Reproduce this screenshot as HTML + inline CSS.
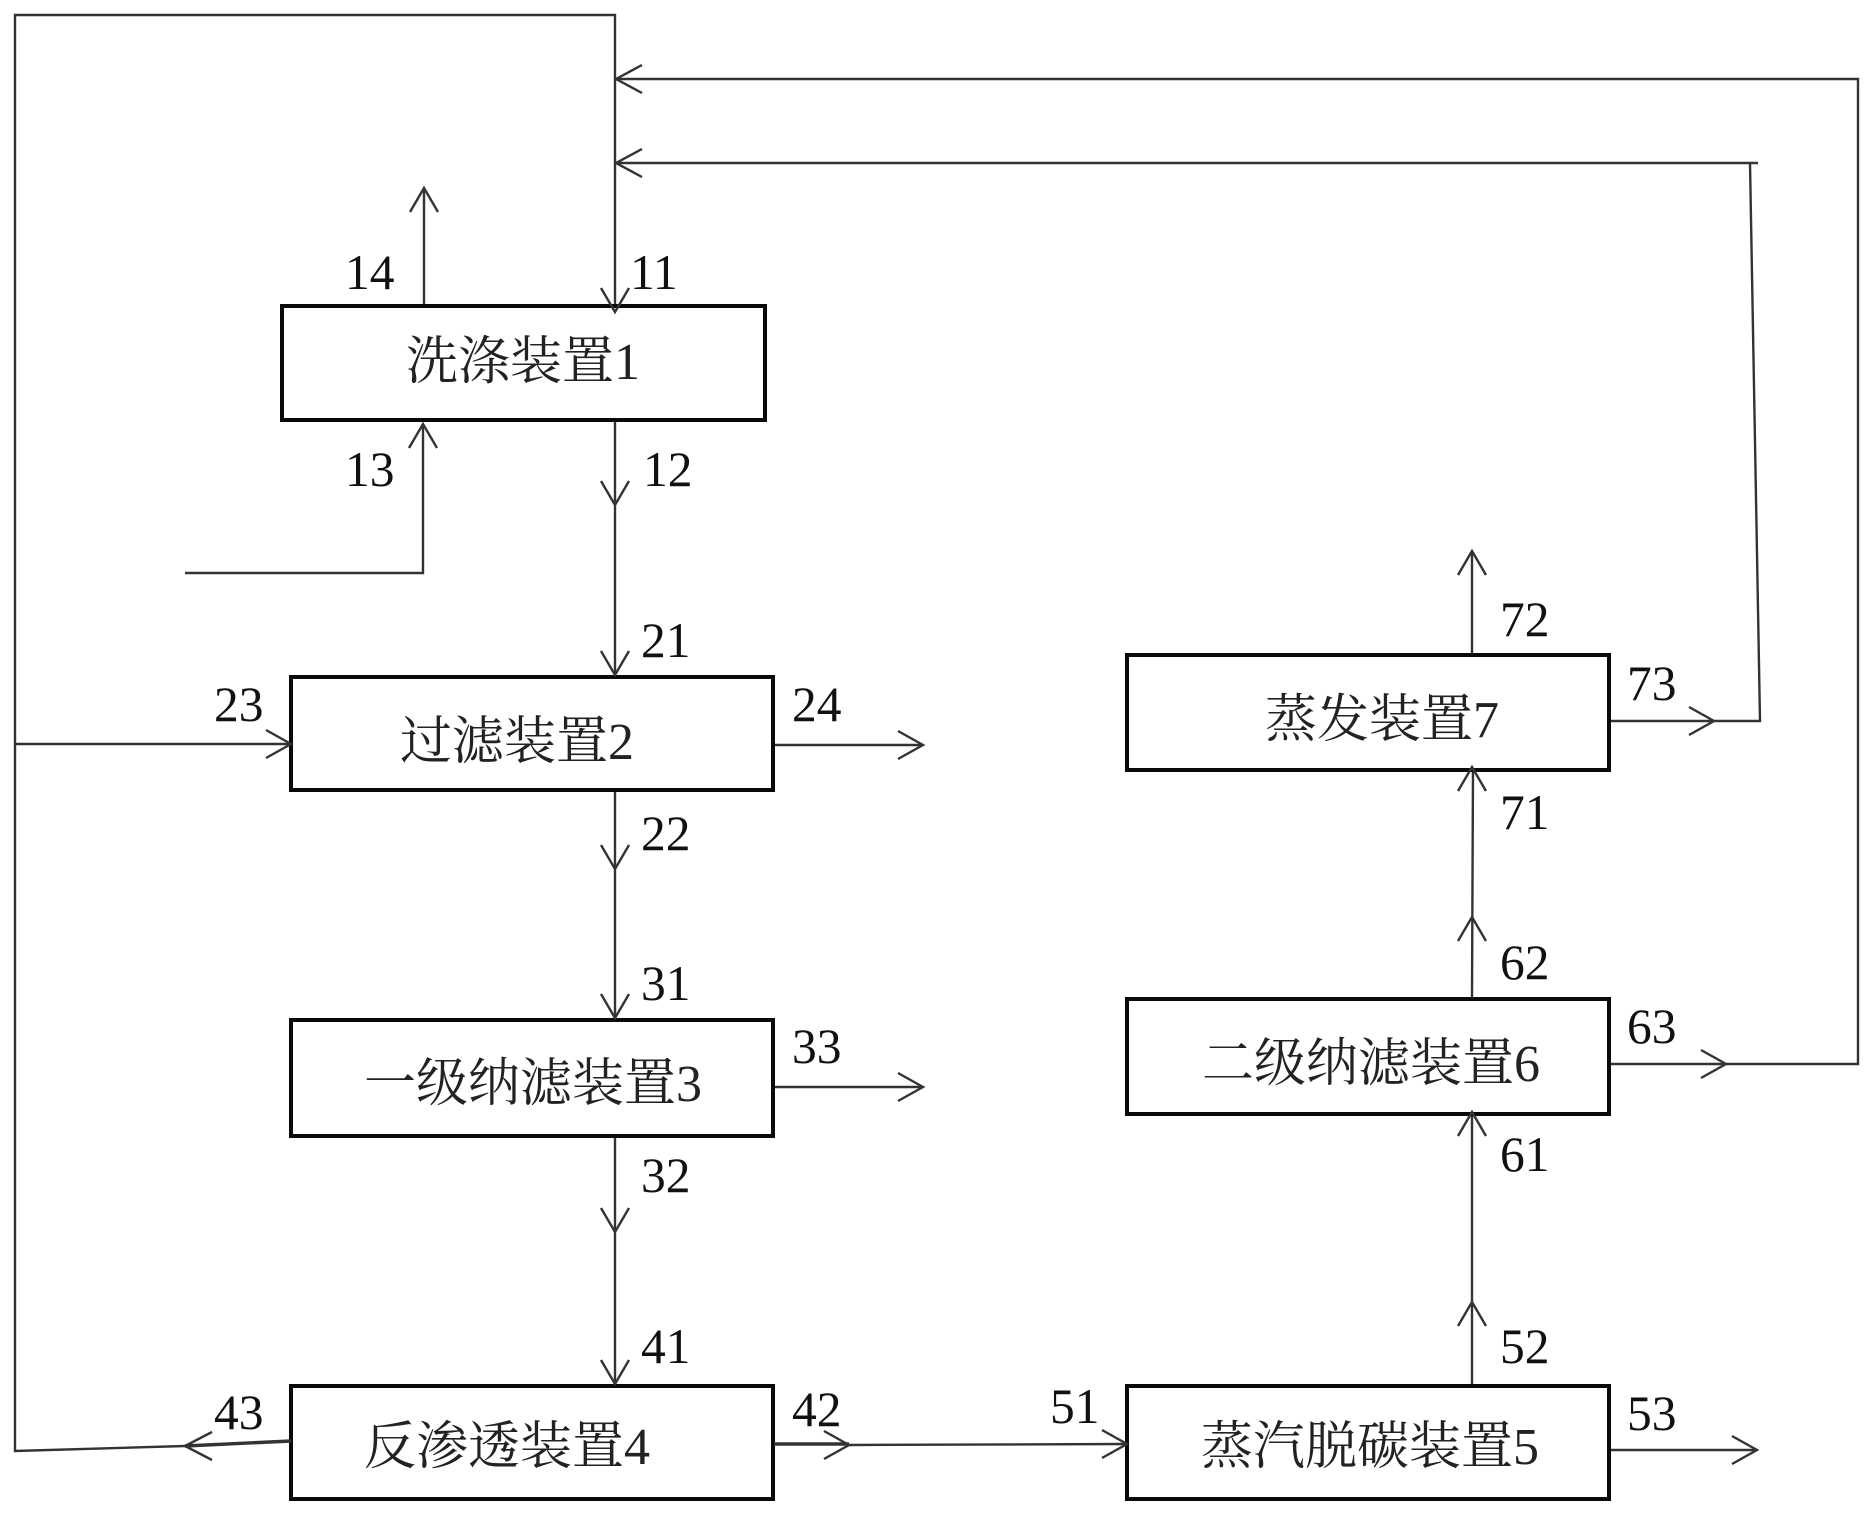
<!DOCTYPE html>
<html><head><meta charset="utf-8"><style>
html,body{margin:0;padding:0;background:#fff}
svg{display:block}
.n{font-family:"Liberation Serif",serif;font-size:49.5px;fill:#111}
.t{font-family:"Liberation Serif","Noto Serif CJK SC",serif;font-size:52px;fill:#222}
.l{fill:none;stroke:#333;stroke-width:2.4}
.b{fill:#fff;stroke:#0a0a0a;stroke-width:4}
</style></head><body>
<svg width="1874" height="1515" viewBox="0 0 1874 1515" xmlns="http://www.w3.org/2000/svg">
<rect width="1874" height="1515" fill="#fff"/>
<g class="l">
<path d="M615 312V15H15V1451L185 1446"/>
<path d="M15 744H291"/>
<path d="M616 79H1858V1064H1611"/>
<path d="M616 163H1758M1750 163L1760 721H1611"/>
<path d="M424 315V188M423 424V573H185"/>
<path d="M615 420V675M615 785V1018M615 1127V1384"/>
<path d="M774 745H923M774 1087H923"/>
<path d="M849 1445L1127 1444"/>
<path d="M1609 1450H1757"/>
<path d="M1472 1385V1112M1472 997L1473 767M1472 654V551"/>
</g>
<g class="b">
<rect x="282" y="306" width="483" height="114"/>
<rect x="291" y="677" width="482" height="113"/>
<rect x="291" y="1020" width="482" height="116"/>
<rect x="291" y="1386" width="482" height="113"/>
<rect x="1127" y="1386" width="482" height="113"/>
<rect x="1127" y="999" width="482" height="115"/>
<rect x="1127" y="655" width="482" height="115"/>
</g>
<g class="l">
<path d="M642 65L616 79L642 93M642 149L616 163L642 177"/>
<path d="M410 212L424 188L438 212M409 448L423 424L437 448"/>
<path d="M601 288L615 312L629 288M601 481L615 505L629 481M601 651L615 675L629 651M601 845L615 869L629 845M601 994L615 1018L629 994M601 1208L615 1232L629 1208M601 1360L615 1384L629 1360"/>
<path d="M266 730L291 744L266 758M898 731L923 745L898 759M898 1073L923 1087L898 1101M824 1431L849 1445L824 1459M1102 1430L1127 1444L1102 1458M1732 1436L1757 1450L1732 1464M1689 707L1714 721L1689 735M1701 1050L1726 1064L1701 1078"/>
<path d="M212 1432L185 1446L212 1460"/>
<path d="M1458 575L1472 551L1486 575M1458 791L1472 767L1486 791M1458 941L1472 917L1486 941M1458 1136L1472 1112L1486 1136M1458 1326L1472 1302L1486 1326"/>
<path d="M185 1446L291 1441M774 1444H849" stroke-width="3.4"/>
</g>
<g class="n">
<text x="345" y="289">14</text><text x="630" y="289">11</text>
<text x="345" y="486">13</text><text x="643" y="486">12</text>
<text x="641" y="657">21</text><text x="214" y="721">23</text><text x="792" y="721">24</text>
<text x="641" y="850">22</text><text x="641" y="1000">31</text><text x="792" y="1063">33</text>
<text x="641" y="1192">32</text><text x="641" y="1363">41</text>
<text x="214" y="1429">43</text><text x="792" y="1426">42</text>
<text x="1050" y="1423">51</text><text x="1627" y="1430">53</text><text x="1500" y="1363">52</text>
<text x="1500" y="1171">61</text><text x="1627" y="1043">63</text><text x="1500" y="979">62</text>
<text x="1500" y="829">71</text><text x="1500" y="636">72</text><text x="1627" y="700">73</text>
</g>
<g class="t">
<text x="406" y="379">洗涤装置1</text>
<text x="400" y="759">过滤装置2</text>
<text x="364" y="1101">一级纳滤装置3</text>
<text x="364" y="1464">反渗透装置4</text>
<text x="1201" y="1464">蒸汽脱碳装置5</text>
<text x="1202" y="1081">二级纳滤装置6</text>
<text x="1265" y="737">蒸发装置7</text>
</g>
</svg>
</body></html>
